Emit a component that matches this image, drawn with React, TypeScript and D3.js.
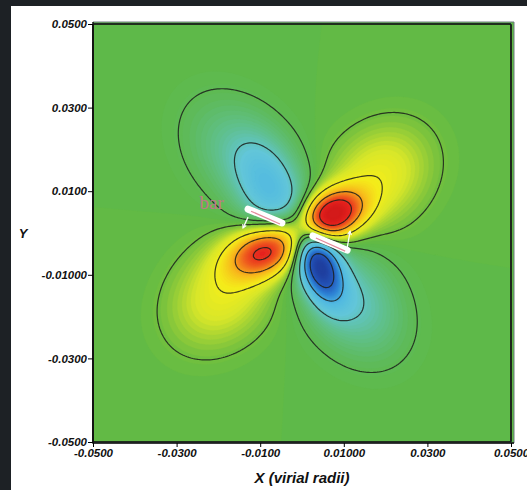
import React, { useEffect, useRef } from 'react';
import * as d3 from 'd3';

// axis ticks, as printed on the figure
const xTicks = [-0.05, -0.03, -0.01, 0.01, 0.03, 0.05];
const xTickLabels = ['-0.0500', '-0.0300', '-0.0100', '0.01000', '0.0300', '0.0500'];
const yTicks = [0.05, 0.03, 0.01, -0.01, -0.03, -0.05];
const yTickLabels = ['0.0500', '0.0300', '0.0100', '-0.01000', '-0.0300', '-0.0500'];

// density lobes (data units), core + halo for each lobe
// order: upper-right core/halo, lower-left core/halo, upper-left core/halo, lower-right core/halo
const lobeX = [0.0067, 0.0184, -0.0081, -0.0191, -0.0073, -0.0172, 0.0038, 0.0120];
const lobeY = [0.0041, 0.0134, -0.0041, -0.0148, 0.0101, 0.0203, -0.0069, -0.0160];
const lobeAmp = [1.05, 0.27, 0.85, 0.26, -0.42, -0.16, -0.92, -0.3];
const lobeSigmaA = [0.0057, 0.0093, 0.0067, 0.0096, 0.0094, 0.0096, 0.0067, 0.0100];
const lobeSigmaB = [0.0038, 0.0074, 0.0041, 0.0074, 0.0057, 0.0072, 0.0034, 0.0072];
const lobeAngle = [25, 45, 20, 45, 112, 125, -70, -55];

// black contour levels
const lineLevels = [-0.8, -0.55, -0.3, -0.05, 0.05, 0.3, 0.55, 0.8];

// bar annotation (two segments + arrows), data units
const barSegments = [
  [[-0.0129, 0.0057], [-0.0048, 0.0024]],
  [[0.0026, -0.0007], [0.0108, -0.0041]],
];
const barArrows = [
  [[-0.0129, 0.0038], [-0.0141, 0.0012]],
  [[0.0108, -0.0036], [0.0115, 0.0004]],
];

const W = 527;
const H = 490;

const field = (x: number, y: number) => {
  let v = 0;
  for (let k = 0; k < lobeX.length; k++) {
    const t = (lobeAngle[k] * Math.PI) / 180;
    const dx = x - lobeX[k];
    const dy = y - lobeY[k];
    const u = dx * Math.cos(t) + dy * Math.sin(t);
    const w = -dx * Math.sin(t) + dy * Math.cos(t);
    v += lobeAmp[k] * Math.exp(-0.5 * ((u / lobeSigmaA[k]) ** 2 + (w / lobeSigmaB[k]) ** 2));
  }
  return v;
};

const App: React.FC = () => {
  const svgRef = useRef<SVGSVGElement>(null);

  useEffect(() => {
    if (!svgRef.current) return;
    const svg = d3.select(svgRef.current);
    svg.selectAll('*').remove();

    const x = d3.scaleLinear().domain([-0.05, 0.05]).range([93, 511]);
    const y = d3.scaleLinear().domain([0.05, -0.05]).range([24, 442]);
    const plot = { left: 93, top: 22, right: 514, bottom: 443 };

    // backgrounds
    svg.append('rect').attr('width', W).attr('height', H).attr('fill', '#1d2125');
    svg.append('rect').attr('x', 11).attr('y', 6).attr('width', W - 11).attr('height', H - 6).attr('fill', '#ffffff');
    svg.append('rect')
      .attr('x', plot.left).attr('y', plot.top)
      .attr('width', plot.right - plot.left).attr('height', plot.bottom - plot.top)
      .attr('fill', '#5eb946');

    const color = d3.scaleLinear<string>()
      .domain([-1, -0.82, -0.65, -0.5, -0.35, -0.2, -0.06, 0, 0.06, 0.2, 0.32, 0.5, 0.68, 0.85, 1])
      .range(['#1f3f9f', '#2456bb', '#2f86d6', '#52bae1', '#62c6d9', '#5fc08f', '#5eba55', '#5eb946',
        '#74c03e', '#d6e62a', '#f4ee1a', '#f7b81c', '#f0651e', '#e6221e', '#d41a1a'])
      .clamp(true);

    // sample the field on a grid over the data square
    const n = 220;
    const values = new Float64Array(n * n);
    for (let j = 0; j < n; j++) {
      for (let i = 0; i < n; i++) {
        const xd = -0.05 + ((i + 0.5) / n) * 0.1;
        const yd = 0.05 - ((j + 0.5) / n) * 0.1;
        values[j * n + i] = field(xd, yd);
      }
    }
    const k = (x(0.05) - x(-0.05)) / n;
    const path = d3.geoPath(d3.geoIdentity().scale(k).translate([x(-0.05), y(0.05)]) as any);

    const step = 0.02;
    const vMin = d3.min(values) as number;
    const bandLevels = [vMin - 1, ...d3.range(-1.02, 1.04, step)];
    const bands = d3.contours().size([n, n]).thresholds(bandLevels)(Array.from(values));
    svg.append('g')
      .selectAll('path')
      .data(bands)
      .enter()
      .append('path')
      .attr('d', (d: any) => path(d))
      .attr('fill', (d: any) => color(d.value + step / 2))
      .attr('stroke', (d: any) => color(d.value + step / 2))
      .attr('stroke-width', 0.4);

    const lines = d3.contours().size([n, n]).thresholds(lineLevels)(Array.from(values));
    svg.append('g')
      .selectAll('path')
      .data(lines)
      .enter()
      .append('path')
      .attr('d', (d: any) => path(d))
      .attr('fill', 'none')
      .attr('stroke', '#1b1f1b')
      .attr('stroke-opacity', 0.85)
      .attr('stroke-width', 1.2);

    // bar annotation
    const ann = svg.append('g');
    barSegments.forEach(s => {
      ann.append('line')
        .attr('x1', x(s[0][0])).attr('y1', y(s[0][1]))
        .attr('x2', x(s[1][0])).attr('y2', y(s[1][1]))
        .attr('stroke', '#ffffff').attr('stroke-width', 7).attr('stroke-linecap', 'round');
      ann.append('line')
        .attr('x1', x(s[0][0]) + 3).attr('y1', y(s[0][1]) + 2)
        .attr('x2', x(s[1][0]) - 2).attr('y2', y(s[1][1]) + 1)
        .attr('stroke', '#e48a9c').attr('stroke-width', 1.2);
    });
    barArrows.forEach(a => {
      const x1 = x(a[0][0]), y1 = y(a[0][1]), x2 = x(a[1][0]), y2 = y(a[1][1]);
      ann.append('line')
        .attr('x1', x1).attr('y1', y1).attr('x2', x2).attr('y2', y2)
        .attr('stroke', '#ffffff').attr('stroke-width', 1.3);
      const ang = Math.atan2(y2 - y1, x2 - x1);
      const hl = 4;
      const p1 = [x2 - hl * Math.cos(ang - 0.5), y2 - hl * Math.sin(ang - 0.5)];
      const p2 = [x2 - hl * Math.cos(ang + 0.5), y2 - hl * Math.sin(ang + 0.5)];
      ann.append('path')
        .attr('d', `M${p1[0]},${p1[1]}L${x2},${y2}L${p2[0]},${p2[1]}`)
        .attr('fill', 'none').attr('stroke', '#ffffff').attr('stroke-width', 1.2);
    });
    ann.append('text')
      .attr('x', x(-0.0245)).attr('y', y(0.0058))
      .attr('font-family', '"Liberation Serif", serif')
      .attr('font-size', 19)
      .attr('fill', '#c0768a')
      .text('bar');

    // frame
    svg.append('path')
      .attr('d', `M${plot.left},${plot.bottom}H${plot.right}V${plot.top}H${plot.left}`)
      .attr('fill', 'none').attr('stroke', '#6f7a80').attr('stroke-width', 1);
    svg.append('path')
      .attr('d', `M${plot.left},${plot.top}V${plot.bottom}H${plot.right}`)
      .attr('fill', 'none').attr('stroke', '#111').attr('stroke-width', 1.5);

    const font = '"Liberation Sans", Arial, sans-serif';

    const yAxis = svg.append('g')
      .attr('transform', `translate(${plot.left},0)`)
      .call(d3.axisLeft(y).tickValues(yTicks).tickSize(5).tickPadding(1)
        .tickFormat((_d, i) => yTickLabels[i]));
    yAxis.select('.domain').remove();
    yAxis.selectAll('text')
      .attr('font-family', font).attr('font-size', 11.5)
      .attr('font-weight', 'bold').attr('font-style', 'italic').attr('fill', '#111');

    const xAxis = svg.append('g')
      .attr('transform', `translate(0,${plot.bottom})`)
      .call(d3.axisBottom(x).tickValues(xTicks).tickSize(4).tickPadding(2)
        .tickFormat((_d, i) => xTickLabels[i]));
    xAxis.select('.domain').remove();
    xAxis.selectAll('text')
      .attr('font-family', font).attr('font-size', 11.5)
      .attr('font-weight', 'bold').attr('font-style', 'italic').attr('fill', '#111');

    svg.append('text')
      .attr('x', (x(-0.05) + x(0.05)) / 2).attr('y', 483)
      .attr('text-anchor', 'middle')
      .attr('font-family', font).attr('font-size', 15)
      .attr('font-weight', 'bold').attr('font-style', 'italic').attr('fill', '#111')
      .text('X (virial radii)');

    svg.append('text')
      .attr('x', 23).attr('y', 238)
      .attr('text-anchor', 'middle')
      .attr('font-family', font).attr('font-size', 13)
      .attr('font-weight', 'bold').attr('font-style', 'italic').attr('fill', '#111')
      .text('Y');
  }, []);

  return (
    <svg
      ref={svgRef}
      width={W}
      height={H}
      style={{ position: 'absolute', left: 0, top: 0, display: 'block' }}
    />
  );
};

export default App;
